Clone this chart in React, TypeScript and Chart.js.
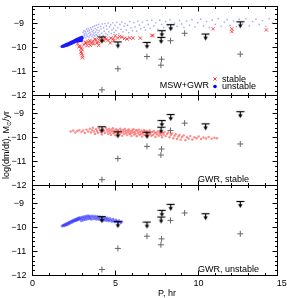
import React, { useEffect, useRef } from 'react';
import { Chart, registerables } from 'chart.js';

Chart.register(...registerables);

const FONT = '"Liberation Sans", Arial, sans-serif';

// axes
const xTickValues = [0, 5, 10, 15];
const yTickValues = [-12, -11, -10, -9];
const xMin = 0;
const xMax = 14.75;
const yMin = -12;
const yMax = -8.25;

// observed systems (same in every panel)
const limitP = [4.18, 5.14, 6.89, 7.74, 7.79, 8.32, 10.42, 12.51];
const limitLog = [-9.54, -9.75, -9.77, -9.56, -9.28, -9.03, -9.42, -8.91];
const detP = [4.18, 5.14, 6.89, 7.77, 7.73, 8.31, 9.16, 12.51];
const detLog = [-11.75, -10.87, -10.36, -10.47, -10.72, -9.7, -9.39, -10.26];

// panel 1: MSW+GWR, stable (red crosses)
const mswStable: [number, number][] = [
  [2.71, -9.83], [2.8, -9.95], [2.87, -9.93], [2.93, -10.02], [2.98, -10.07], [2.92, -10.17],
  [2.95, -10.24], [3.01, -10.33], [3.01, -10.41], [3.1, -9.86], [3.18, -9.76], [3.23, -9.79],
  [3.3, -9.9], [3.37, -9.75], [3.45, -9.7], [3.48, -9.89], [3.55, -9.8], [3.62, -9.72],
  [3.67, -9.83], [3.75, -9.64], [3.82, -9.66], [3.88, -9.8], [3.92, -9.75], [3.98, -9.89],
  [4.05, -9.6], [4.12, -9.72], [4.28, -9.7], [4.35, -9.58], [4.44, -9.63], [4.55, -9.68],
  [4.68, -9.79], [4.72, -9.59], [4.85, -9.62], [4.88, -9.7], [4.98, -9.49], [5.12, -9.59],
  [5.25, -9.52], [5.39, -9.55], [5.55, -9.6], [5.69, -9.63], [5.85, -9.58], [6.05, -9.59],
  [6.49, -9.59], [7.19, -9.48], [7.25, -9.48], [10.87, -9.2], [12.0, -9.2], [12.0, -9.32],
  [14.08, -9.25],
];

// panel 1: MSW+GWR, unstable — dense wedge
const mswUnstableCore: [number, number][] = [
  [1.78, -9.94], [1.85, -9.91], [1.88, -9.93], [1.95, -9.88], [1.97, -9.91], [2.04, -9.85],
  [2.06, -9.89], [2.12, -9.83], [2.14, -9.87], [2.18, -9.85], [2.22, -9.8], [2.24, -9.84],
  [2.27, -9.82], [2.31, -9.77], [2.33, -9.81], [2.36, -9.79], [2.4, -9.74], [2.42, -9.78],
  [2.45, -9.76], [2.48, -9.72], [2.51, -9.75], [2.53, -9.7], [2.55, -9.74], [2.58, -9.68],
  [2.6, -9.72], [2.63, -9.66], [2.65, -9.7], [2.68, -9.64], [2.7, -9.68], [2.72, -9.72],
  [2.75, -9.62], [2.77, -9.66], [2.79, -9.7], [2.82, -9.6], [2.84, -9.64], [2.86, -9.68],
  [2.88, -9.58], [2.9, -9.62], [2.92, -9.66], [2.94, -9.7], [2.96, -9.56], [2.98, -9.6],
];

// panel 1: MSW+GWR, unstable — sparse cloud
const mswUnstable: [number, number][] = [
  [3.02, -9.5], [3.05, -9.35], [3.08, -9.55], [3.1, -9.28], [3.12, -9.42], [3.15, -9.48],
  [3.18, -9.31], [3.2, -9.58], [3.22, -9.38], [3.25, -9.22], [3.27, -9.45], [3.3, -9.52],
  [3.32, -9.3], [3.35, -9.18], [3.37, -9.4], [3.4, -9.55], [3.42, -9.26], [3.45, -9.35],
  [3.47, -9.48], [3.5, -9.15], [3.52, -9.42], [3.55, -9.22], [3.58, -9.52], [3.6, -9.32],
  [3.63, -9.12], [3.65, -9.45], [3.68, -9.27], [3.7, -9.38], [3.73, -9.08], [3.75, -9.5],
  [3.78, -9.19], [3.8, -9.34], [3.83, -9.44], [3.85, -9.05], [3.88, -9.25], [3.9, -9.48],
  [3.93, -9.14], [3.95, -9.36], [3.98, -9.02], [4.02, -9.28], [4.05, -9.45], [4.1, -9.1],
  [4.13, -9.2], [4.17, -9.38], [4.2, -9.0], [4.25, -9.48], [4.28, -9.15], [4.32, -9.3],
  [4.36, -8.98], [4.4, -9.4], [4.44, -9.08], [4.48, -9.22], [4.52, -9.45], [4.56, -8.96],
  [4.6, -9.33], [4.65, -9.12], [4.7, -9.03], [4.74, -9.4], [4.78, -9.25], [4.83, -8.95],
  [4.88, -9.18], [4.92, -9.36], [4.96, -9.06], [5.02, -9.28], [5.08, -8.93], [5.14, -9.15],
  [5.2, -9.4], [5.26, -9.02], [5.32, -9.22], [5.38, -8.92], [5.45, -9.33], [5.52, -9.1],
  [5.58, -8.98], [5.65, -9.25], [5.72, -9.05], [5.8, -9.36], [5.86, -8.9], [5.93, -9.16],
  [6.02, -9.28], [6.1, -8.95], [6.18, -9.12], [6.27, -9.3], [6.35, -8.88], [6.44, -9.05],
  [6.52, -9.2], [6.62, -8.92], [6.72, -9.14], [6.8, -9.26], [6.9, -8.86], [6.97, -9.02],
  [7.08, -9.18], [7.18, -8.85], [7.3, -9.08], [7.42, -8.95], [7.55, -9.22], [7.66, -8.84],
  [7.78, -9.02], [7.9, -9.15], [8.02, -8.9], [8.15, -9.06], [8.28, -8.82], [8.4, -9.18],
  [8.55, -8.96], [8.7, -9.1], [8.85, -8.85], [8.98, -9.0], [9.12, -9.15], [9.28, -8.88],
  [9.45, -9.05], [9.6, -8.82], [9.78, -9.12], [9.95, -8.95], [10.12, -8.8], [10.3, -9.08],
  [10.48, -8.9], [10.65, -9.15], [10.82, -8.84], [11.0, -9.02], [11.18, -8.78], [11.36, -9.1],
  [11.55, -8.92], [11.72, -8.82], [11.9, -9.06], [12.1, -8.88], [12.28, -9.12], [12.45, -8.8],
  [12.65, -9.0], [12.85, -8.78], [13.05, -9.08], [13.25, -8.9], [13.45, -8.8], [13.65, -9.02],
  [13.85, -8.86], [14.05, -9.1], [14.25, -8.78], [14.45, -8.95],
];

// panel 2: GWR, stable
const gwrStable: [number, number][] = [
  [2.3, -9.74], [2.45, -9.7], [2.58, -9.78], [2.7, -9.72], [2.82, -9.68], [2.95, -9.76],
  [3.05, -9.7], [3.15, -9.8], [3.25, -9.66], [3.35, -9.74], [3.45, -9.62], [3.52, -9.78],
  [3.58, -9.68], [3.64, -9.58], [3.7, -9.74], [3.76, -9.84], [3.82, -9.64], [3.88, -9.72],
  [3.94, -9.8], [4.0, -9.6], [4.06, -9.69], [4.12, -9.77], [4.18, -9.86], [4.24, -9.63],
  [4.3, -9.72], [4.36, -9.8], [4.42, -9.58], [4.48, -9.67], [4.52, -9.75], [4.56, -9.84],
  [4.6, -9.62], [4.64, -9.7], [4.68, -9.79], [4.72, -9.88], [4.76, -9.66], [4.8, -9.74],
  [4.84, -9.6], [4.88, -9.82], [4.92, -9.7], [4.96, -9.78], [5.0, -9.9], [5.04, -9.64],
  [5.08, -9.73], [5.12, -9.81], [5.16, -9.68], [5.2, -9.76], [5.24, -9.86], [5.28, -9.62],
  [5.32, -9.71], [5.36, -9.79], [5.4, -9.92], [5.44, -9.67], [5.48, -9.75], [5.52, -9.84],
  [5.56, -9.63], [5.6, -9.72], [5.64, -9.8], [5.68, -9.89], [5.72, -9.69], [5.76, -9.77],
  [5.8, -9.65], [5.84, -9.85], [5.88, -9.73], [5.92, -9.81], [5.96, -9.93], [6.0, -9.7],
  [6.04, -9.78], [6.08, -9.64], [6.12, -9.87], [6.16, -9.75], [6.2, -9.83], [6.24, -9.68],
  [6.28, -9.94], [6.32, -9.72], [6.36, -9.8], [6.4, -9.66], [6.44, -9.88], [6.48, -9.76],
  [6.52, -9.84], [6.56, -9.7], [6.6, -9.95], [6.64, -9.78], [6.68, -9.86], [6.72, -9.68],
  [6.76, -9.74], [6.8, -9.9], [6.84, -9.82], [6.88, -9.72], [6.92, -9.96], [6.96, -9.79],
  [7.0, -9.87], [7.05, -9.7], [7.1, -9.83], [7.15, -9.92], [7.2, -9.76], [7.25, -9.88],
  [7.3, -9.72], [7.35, -9.81], [7.4, -9.97], [7.45, -9.78], [7.5, -9.86], [7.55, -9.74],
  [7.6, -9.92], [7.65, -9.83], [7.7, -9.77], [7.75, -9.89], [7.8, -9.98], [7.85, -9.8],
  [7.9, -9.87], [7.95, -9.76], [8.02, -9.93], [8.1, -9.84], [8.18, -9.78], [8.25, -9.98],
  [8.32, -9.88], [8.4, -9.82], [8.48, -10.02], [8.55, -9.92], [8.62, -9.85], [8.7, -10.05],
  [8.78, -9.95], [8.85, -9.88], [8.92, -10.08], [9.0, -9.97], [9.1, -9.9], [9.2, -10.1],
  [9.3, -9.98], [9.4, -10.04], [9.5, -9.93], [9.62, -10.07], [9.75, -9.98], [9.88, -10.02],
  [10.0, -9.95], [10.15, -10.05], [10.3, -9.99], [10.45, -10.03], [10.6, -9.97], [10.78, -10.04],
  [10.95, -10.0], [11.1, -10.02],
];

// panel 3: GWR, unstable
const gwrUnstable: [number, number][] = [
  [1.78, -9.94], [1.84, -9.91], [1.9, -9.89], [1.92, -9.93], [1.98, -9.86], [2.02, -9.9],
  [2.06, -9.83], [2.1, -9.88], [2.14, -9.8], [2.18, -9.85], [2.22, -9.77], [2.26, -9.82],
  [2.3, -9.74], [2.34, -9.79], [2.38, -9.72], [2.42, -9.77], [2.46, -9.69], [2.5, -9.74],
  [2.54, -9.67], [2.58, -9.72], [2.62, -9.65], [2.66, -9.7], [2.7, -9.62], [2.74, -9.68],
  [2.78, -9.6], [2.82, -9.66], [2.86, -9.58], [2.9, -9.64], [2.94, -9.72], [2.98, -9.56],
  [3.02, -9.62], [3.06, -9.69], [3.1, -9.54], [3.14, -9.6], [3.18, -9.67], [3.22, -9.52],
  [3.26, -9.58], [3.3, -9.65], [3.34, -9.5], [3.38, -9.56], [3.42, -9.63], [3.46, -9.52],
  [3.5, -9.59], [3.55, -9.66], [3.6, -9.51], [3.65, -9.57], [3.7, -9.64], [3.75, -9.52],
  [3.8, -9.59], [3.85, -9.66], [3.9, -9.53], [3.95, -9.6], [4.0, -9.67], [4.05, -9.55],
  [4.1, -9.62], [4.15, -9.69], [4.2, -9.56], [4.25, -9.63], [4.3, -9.7], [4.35, -9.58],
  [4.4, -9.65], [4.45, -9.71], [4.5, -9.6], [4.55, -9.67], [4.6, -9.73], [4.66, -9.62],
  [4.72, -9.69], [4.78, -9.75], [4.84, -9.65], [4.9, -9.72], [4.96, -9.77], [5.02, -9.68],
  [5.08, -9.74], [5.14, -9.79], [5.2, -9.71], [5.26, -9.77], [5.32, -9.8], [5.38, -9.75],
];

const panelIds = ['y1', 'y2', 'y3'];
const panelLabels = ['', 'GWR, stable', 'GWR, unstable'];

const fmt = (v: number) => (v < 0 ? '\u2212' + Math.abs(v) : String(v));
const crisp = (v: number) => Math.round(v - 0.5) + 0.5;

function makeLimitGlyph() {
  const c = document.createElement('canvas');
  c.width = 9;
  c.height = 15;
  const g = c.getContext('2d')!;
  g.strokeStyle = '#000';
  g.fillStyle = '#000';
  g.lineWidth = 1.2;
  g.beginPath();
  g.moveTo(0.5, 7.5);
  g.lineTo(8.5, 7.5);
  g.stroke();
  g.beginPath();
  g.moveTo(4.5, 7.5);
  g.lineTo(4.5, 11);
  g.stroke();
  g.beginPath();
  g.moveTo(2.3, 10.3);
  g.lineTo(6.7, 10.3);
  g.lineTo(4.5, 14);
  g.closePath();
  g.fill();
  return c;
}

const framePlugin = {
  id: 'frame',
  afterDraw(chart: any) {
    const ctx = chart.ctx;
    const xs = chart.scales.x;
    const L = crisp(xs.left);
    const R = crisp(xs.right);
    ctx.save();
    ctx.strokeStyle = '#000';
    ctx.lineWidth = 1;
    panelIds.forEach((id) => {
      const ys = chart.scales[id];
      const T = crisp(ys.top);
      const B = crisp(ys.bottom);
      ctx.strokeRect(L, T, R - L, B - T);
      ctx.beginPath();
      for (let v = 1; v <= 14; v++) {
        const px = crisp(xs.getPixelForValue(v));
        const len = v % 5 === 0 ? 5 : 2.5;
        ctx.moveTo(px, B);
        ctx.lineTo(px, B - len);
        ctx.moveTo(px, T);
        ctx.lineTo(px, T + len);
      }
      for (let k = 1; k <= 18; k++) {
        const v = yMin + k * 0.2;
        if (v >= yMax) break;
        const py = crisp(ys.getPixelForValue(v));
        const len = k % 5 === 0 ? 5 : 2.5;
        ctx.moveTo(L, py);
        ctx.lineTo(L + len, py);
        ctx.moveTo(R, py);
        ctx.lineTo(R - len, py);
      }
      ctx.stroke();
    });

    ctx.fillStyle = '#000';
    ctx.font = `9px ${FONT}`;
    ctx.textBaseline = 'alphabetic';
    // panel 1 legend
    ctx.textAlign = 'right';
    ctx.fillText('MSW+GWR', 209, 87.5);
    ctx.textAlign = 'left';
    ctx.fillText('stable', 222, 81.8);
    ctx.fillText('unstable', 222, 88.6);
    ctx.strokeStyle = '#ff3a3a';
    ctx.beginPath();
    ctx.moveTo(213.5, 77.5);
    ctx.lineTo(216.5, 80.5);
    ctx.moveTo(216.5, 77.5);
    ctx.lineTo(213.5, 80.5);
    ctx.stroke();
    ctx.fillStyle = '#0000ff';
    ctx.beginPath();
    ctx.arc(215, 86.5, 1.8, 0, Math.PI * 2);
    ctx.fill();
    ctx.fillStyle = '#000';
    // panel labels
    panelIds.forEach((id, i) => {
      if (!panelLabels[i]) return;
      const ys = chart.scales[id];
      ctx.fillText(panelLabels[i], 198, ys.bottom - 3.5);
    });
    // x title
    ctx.textAlign = 'center';
    ctx.fillText('P, hr', 167, 296);
    // y title (rotated)
    ctx.save();
    ctx.translate(8.5, 145);
    ctx.rotate(-Math.PI / 2);
    ctx.textAlign = 'left';
    const a = 'log(dm/dt), M';
    const s = '\u2299';
    const b = '/yr';
    ctx.font = `9px ${FONT}`;
    const wa = ctx.measureText(a).width;
    const wb = ctx.measureText(b).width;
    ctx.font = `6px ${FONT}`;
    const ws = ctx.measureText(s).width;
    const x0 = -(wa + ws + wb) / 2;
    ctx.font = `9px ${FONT}`;
    ctx.fillText(a, x0, 0);
    ctx.font = `6px ${FONT}`;
    ctx.fillText(s, x0 + wa, 2);
    ctx.font = `9px ${FONT}`;
    ctx.fillText(b, x0 + wa + ws, 0);
    ctx.restore();
    ctx.restore();
  },
};

export default function App() {
  const ref = useRef<HTMLCanvasElement>(null);

  useEffect(() => {
    const canvas = ref.current;
    if (!canvas) return;
    const limitImg = makeLimitGlyph();
    const pts = (xs: number[], ys: number[]) => xs.map((x, i) => ({ x, y: ys[i] }));
    const pairs = (arr: [number, number][]) => arr.map(([x, y]) => ({ x, y }));

    const datasets: any[] = [];
    panelIds.forEach((id) => {
      datasets.push({
        label: 'limit',
        data: pts(limitP, limitLog),
        yAxisID: id,
        pointStyle: limitImg,
        pointRadius: 5,
      });
      datasets.push({
        label: 'detection',
        data: pts(detP, detLog),
        yAxisID: id,
        pointStyle: 'cross',
        pointRadius: 3,
        pointBorderColor: '#666',
        pointBorderWidth: 1,
      });
    });
    datasets.push({
      label: 'MSW+GWR stable',
      data: pairs(mswStable),
      yAxisID: 'y1',
      pointStyle: 'crossRot',
      pointRadius: 2.4,
      pointBorderColor: 'rgba(255,50,50,0.85)',
      pointBorderWidth: 1,
    });
    datasets.push({
      label: 'MSW+GWR unstable core',
      data: pairs(mswUnstableCore),
      yAxisID: 'y1',
      pointRadius: 1.6,
      pointBackgroundColor: '#1a1aff',
      pointBorderWidth: 0,
    });
    datasets.push({
      label: 'MSW+GWR unstable',
      data: pairs(mswUnstable),
      yAxisID: 'y1',
      pointRadius: 0.85,
      pointBackgroundColor: 'rgba(70,70,255,0.45)',
      pointBorderWidth: 0,
    });
    datasets.push({
      label: 'GWR stable',
      data: pairs(gwrStable),
      yAxisID: 'y2',
      pointRadius: 1.2,
      pointBackgroundColor: 'rgba(255,60,60,0.6)',
      pointBorderWidth: 0,
    });
    datasets.push({
      label: 'GWR unstable',
      data: pairs(gwrUnstable),
      yAxisID: 'y3',
      pointRadius: 1.4,
      pointBackgroundColor: 'rgba(40,40,255,0.55)',
      pointBorderWidth: 0,
    });

    const yScale = (weight: number) => ({
      type: 'linear',
      position: 'left',
      stack: 'panels',
      stackWeight: 1,
      weight,
      min: yMin,
      max: yMax,
      afterBuildTicks: (sc: any) => {
        sc.ticks = yTickValues.map((v) => ({ value: v }));
      },
      afterFit: (sc: any) => {
        sc.width = 32.5;
        sc.paddingTop = 0;
        sc.paddingBottom = 0;
      },
      grid: { display: false, drawTicks: false },
      border: { display: false },
      ticks: {
        padding: 6,
        crossAlign: 'center',
        autoSkip: false,
        color: '#000',
        font: { family: FONT, size: 9 },
        callback: (v: any) => fmt(Number(v)),
      },
    });

    const chart = new Chart(canvas, {
      type: 'scatter',
      data: { datasets },
      options: {
        responsive: false,
        maintainAspectRatio: false,
        animation: false,
        events: [],
        layout: { padding: { left: 0, top: 1.5, right: 9.5, bottom: 0 } },
        plugins: { legend: { display: false }, tooltip: { enabled: false } },
        scales: {
          x: {
            type: 'linear',
            position: 'bottom',
            min: xMin,
            max: xMax,
            afterBuildTicks: (sc: any) => {
              sc.ticks = xTickValues.map((v) => ({ value: v }));
            },
            afterFit: (sc: any) => {
              sc.height = 22.5;
              sc.paddingLeft = 0;
              sc.paddingRight = 0;
            },
            grid: { display: false, drawTicks: false },
            border: { display: false },
            ticks: {
              padding: 3,
              autoSkip: false,
              maxRotation: 0,
              color: '#000',
              font: { family: FONT, size: 9 },
              callback: (v: any) => String(v),
            },
          },
          y1: yScale(3),
          y2: yScale(2),
          y3: yScale(1),
        } as any,
      },
      plugins: [framePlugin],
    } as any);

    return () => chart.destroy();
  }, []);

  return (
    <div style={{ position: 'absolute', left: 0, top: 0, width: 287, height: 298, background: '#fff' }}>
      <canvas ref={ref} width={287} height={298} style={{ display: 'block' }} />
    </div>
  );
}
